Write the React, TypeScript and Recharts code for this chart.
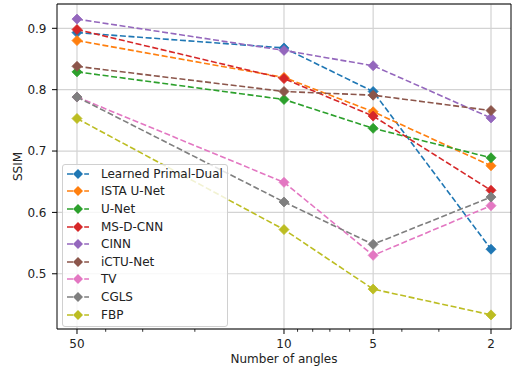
import React from 'react'
import { LineChart, Line, XAxis, YAxis, CartesianGrid, ReferenceLine, Legend } from 'recharts'

// SSIM per number of angles (50, 10, 5, 2)
const angles = [50, 10, 5, 2]
const learnedPrimalDual = [0.893, 0.868, 0.797, 0.54]
const istaUNet = [0.88, 0.82, 0.764, 0.676]
const uNet = [0.829, 0.784, 0.737, 0.689]
const msDCnn = [0.898, 0.818, 0.757, 0.636]
const cinn = [0.915, 0.864, 0.839, 0.754]
const ictuNet = [0.838, 0.797, 0.791, 0.766]
const tv = [0.788, 0.649, 0.53, 0.611]
const cgls = [0.788, 0.617, 0.548, 0.625]
const fbp = [0.753, 0.572, 0.475, 0.433]

const majorTicks = [50, 10, 5, 2]
const minorTicks = [40, 30, 20, 9, 8, 7, 6, 4, 3]
const yTicks = [0.5, 0.6, 0.7, 0.8, 0.9]

const xDomain = [1.712, 58.41]
const yDomain = [0.41, 0.9396]

const series = [
  { key: 'lpd', name: 'Learned Primal-Dual', color: '#1f77b4', values: learnedPrimalDual },
  { key: 'ista', name: 'ISTA U-Net', color: '#ff7f0e', values: istaUNet },
  { key: 'unet', name: 'U-Net', color: '#2ca02c', values: uNet },
  { key: 'msd', name: 'MS-D-CNN', color: '#d62728', values: msDCnn },
  { key: 'cinn', name: 'CINN', color: '#9467bd', values: cinn },
  { key: 'ictu', name: 'iCTU-Net', color: '#8c564b', values: ictuNet },
  { key: 'tv', name: 'TV', color: '#e377c2', values: tv },
  { key: 'cgls', name: 'CGLS', color: '#7f7f7f', values: cgls },
  { key: 'fbp', name: 'FBP', color: '#bcbd22', values: fbp },
]

const chartData = angles.map((angle, i) => {
  const row: Record<string, number> = { angle }
  series.forEach(s => { row[s.key] = s.values[i] })
  return row
})

const FONT = '"DejaVu Sans", sans-serif'
const FONT_SIZE = 12
const TICK_SIZE = 5
const TICK_MARGIN = 5.5
const DASH = '6 2.6'

const diamond = (cx: number, cy: number, r: number) =>
  `${cx},${cy - r} ${cx + r},${cy} ${cx},${cy + r} ${cx - r},${cy}`

const Diamond = (color: string) => (props: any) => {
  const { cx, cy, index } = props
  if (cx == null || cy == null) return <g key={index} />
  return <polygon key={index} points={diamond(cx, cy, 5)} fill={color} stroke={color} strokeWidth={0.8} />
}

const AngleTick = (props: any) => {
  const { x, y, payload } = props
  const major = majorTicks.includes(payload.value)
  const top = y - TICK_SIZE - TICK_MARGIN
  return (
    <g>
      <line x1={x} x2={x} y1={top} y2={top + (major ? TICK_SIZE : 2.8)} stroke="#000" strokeWidth={major ? 1 : 0.8} />
      {major && (
        <text x={x} y={y} dy="0.71em" textAnchor="middle" fontSize={FONT_SIZE} fill="#222" fontFamily={FONT}>
          {payload.value}
        </text>
      )}
    </g>
  )
}

const LegendBox = () => (
  <div
    style={{
      background: 'rgba(255,255,255,0.8)',
      border: '1px solid #d0d0d0',
      borderRadius: 3,
      padding: '0 0 3px 0',
      width: 166,
      boxSizing: 'border-box',
      fontFamily: FONT,
      fontSize: FONT_SIZE,
      color: '#222',
    }}
  >
    {series.map(s => (
      <div key={s.key} style={{ display: 'flex', alignItems: 'center', height: 17.6 }}>
        <svg width={38} height={14} style={{ flex: 'none' }}>
          <line x1={4} x2={26} y1={7} y2={7} stroke={s.color} strokeWidth={1.6} strokeDasharray={DASH} />
          <polygon points={diamond(15, 7, 5)} fill={s.color} />
        </svg>
        <span style={{ whiteSpace: 'nowrap' }}>{s.name}</span>
      </div>
    ))}
  </div>
)

export default function App() {
  return (
    <div style={{ position: 'absolute', left: 0, top: 0, width: 514, height: 367, background: '#fff' }}>
      <LineChart
        width={514}
        height={367}
        data={chartData}
        margin={{ top: 4, right: 3, left: 0, bottom: 0 }}
        style={{ fontFamily: FONT }}
      >
        <CartesianGrid vertical={false} stroke="#d3d3d3" strokeWidth={1.2} />
        {majorTicks.map(t => (
          <ReferenceLine key={t} x={t} stroke="#d3d3d3" strokeWidth={1.2} />
        ))}
        <XAxis
          dataKey="angle"
          type="number"
          scale="log"
          domain={xDomain}
          allowDataOverflow
          reversed
          ticks={[...majorTicks, ...minorTicks].sort((a, b) => b - a)}
          interval={0}
          tick={<AngleTick />}
          tickLine={false}
          axisLine={false}
          tickSize={TICK_SIZE}
          tickMargin={TICK_MARGIN}
          height={38}
          label={({ viewBox }: any) => (
            <text
              x={viewBox.x + viewBox.width / 2}
              y={viewBox.y + 34}
              textAnchor="middle"
              fontSize={FONT_SIZE}
              fill="#222"
              fontFamily={FONT}
            >
              Number of angles
            </text>
          )}
        />
        <YAxis
          type="number"
          domain={yDomain}
          allowDataOverflow
          ticks={yTicks}
          tickFormatter={(v: number) => v.toFixed(1)}
          tick={{ fontSize: FONT_SIZE, fill: '#222', fontFamily: FONT }}
          tickLine={{ stroke: '#000' }}
          axisLine={false}
          tickSize={TICK_SIZE}
          tickMargin={TICK_MARGIN}
          width={57}
          label={({ viewBox }: any) => {
            const cx = viewBox.x + 18
            const cy = viewBox.y + viewBox.height / 2
            return (
              <text
                x={cx}
                y={cy}
                transform={`rotate(-90 ${cx} ${cy})`}
                textAnchor="middle"
                dominantBaseline="central"
                fontSize={FONT_SIZE}
                fill="#222"
                fontFamily={FONT}
              >
                SSIM
              </text>
            )
          }}
        />
        {series.map(s => (
          <Line
            key={s.key}
            dataKey={s.key}
            name={s.name}
            type="linear"
            stroke={s.color}
            strokeWidth={1.6}
            strokeDasharray={DASH}
            dot={Diamond(s.color)}
            activeDot={false}
            isAnimationActive={false}
          />
        ))}
        {/* plot frame (spines) */}
        <ReferenceLine x={xDomain[0]} stroke="#000" strokeWidth={1} ifOverflow="visible" />
        <ReferenceLine x={xDomain[1]} stroke="#000" strokeWidth={1} ifOverflow="visible" />
        <ReferenceLine y={yDomain[0]} stroke="#000" strokeWidth={1} ifOverflow="visible" />
        <ReferenceLine y={yDomain[1]} stroke="#000" strokeWidth={1} ifOverflow="visible" />
        <Legend
          layout="vertical"
          align="center"
          verticalAlign="middle"
          content={() => <LegendBox />}
          wrapperStyle={{ left: 62, top: 164, width: 166 }}
        />
      </LineChart>
    </div>
  )
}
